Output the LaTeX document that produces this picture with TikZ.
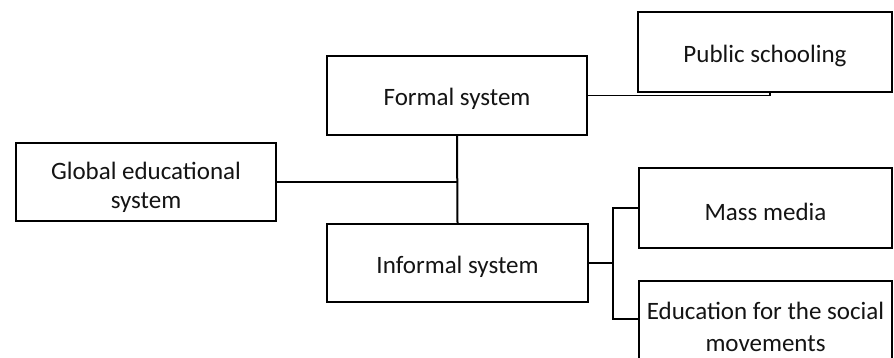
\documentclass[tikz,border=0pt]{standalone}
\usepackage{fontspec}
\setmainfont{Carlito}
\usetikzlibrary{calc}
\newcommand\topstrut[1]{\rule{0pt}{#1}}
\begin{document}
\begin{tikzpicture}[x=1pt,y=-1pt,
  box/.style={draw=black, line width=2.4pt, fill=white, inner sep=0pt,
    align=center, text=black!92, font=\fontsize{25}{29}\selectfont},
  link/.style={draw=black, line width=2pt},
  thinlink/.style={draw=black, line width=1.5pt}]
  \useasboundingbox (0,0) rectangle (894,358);
  \fill[white] (0,0) rectangle (894,358);
  \clip (0,0) rectangle (894,358);

  % main categories
  \node[box, minimum width=260pt, minimum height=78pt] (global) at (146,182)
    {\topstrut{28pt}Global educational\\system};
  \node[box, minimum width=260pt, minimum height=79pt] (formal) at (457,95.5)
    {\topstrut{25pt}Formal system};
  \node[box, minimum width=261pt, minimum height=78pt] (informal) at (457.5,263)
    {\topstrut{25pt}Informal system};

  % sub-categories on the right (running off the page edge)
  \node[box, minimum width=254pt, minimum height=80pt] (public) at (765,52)
    {\topstrut{25pt}Public schooling};
  \node[box, minimum width=253pt, minimum height=80pt] (mass) at (765.5,208)
    {\topstrut{25pt}Mass media};
  \node[box, minimum width=253pt, minimum height=80pt,
    font=\fontsize{25}{32}\selectfont] (edu) at (765.5,321)
    {\topstrut{30pt}Education for the social\\movements};

  % trunk between the formal and informal systems
  \draw[link] (formal.south) -- (informal.north);
  \draw[link] (global.east) -- (global.east -| formal.south);

  % formal branch
  \coordinate (pubfoot) at ($(public.south)+(5,0)$);
  \draw[thinlink] (formal.east) -| (pubfoot);

  % informal branches
  \coordinate (fork) at (613,263);
  \draw[link] (informal.east) -- (fork);
  \draw[link] (mass.west) -| (fork) |- ($(edu.west)+(0,-2)$);
\end{tikzpicture}
\end{document}
